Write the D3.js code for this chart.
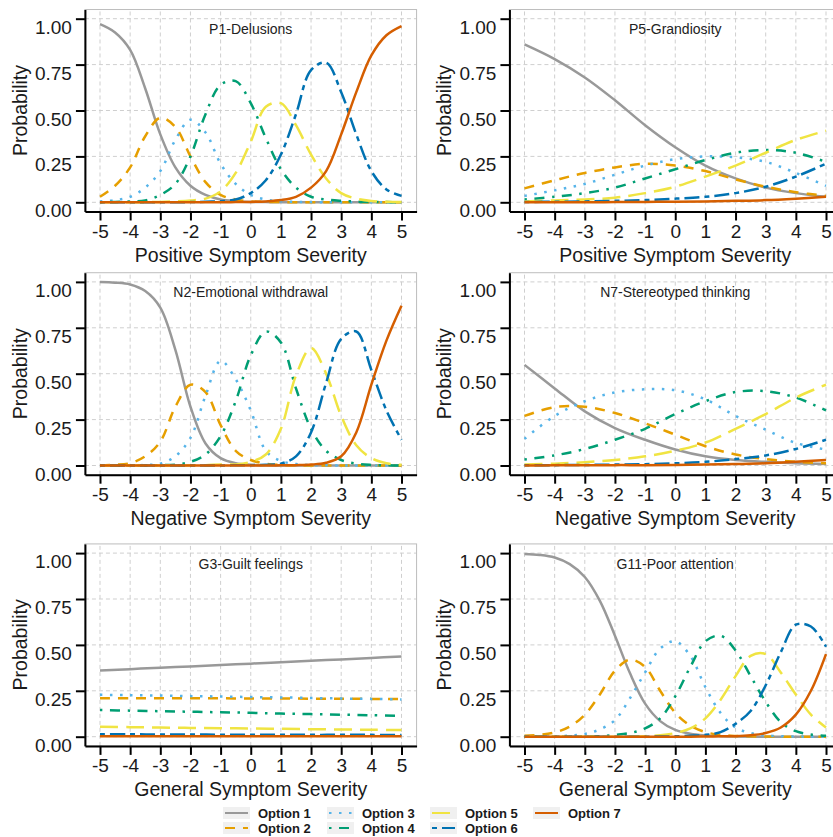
<!DOCTYPE html>
<html>
<head>
<meta charset="utf-8">
<script src="https://cdn.jsdelivr.net/npm/d3@7"></script>
<style>
  body { margin: 0; background: #fff; }
  svg text { font-family: "Liberation Sans", Arial, Helvetica, sans-serif; }
</style>
</head>
<body>
<div id="chart"></div>
<script>
// category response curves
var options = ["Option 1","Option 2","Option 3","Option 4","Option 5","Option 6","Option 7"]
var panelTitles = ["P1-Delusions","P5-Grandiosity","N2-Emotional withdrawal","N7-Stereotyped thinking","G3-Guilt feelings","G11-Poor attention"]
var xTitles = ["Positive Symptom Severity","Positive Symptom Severity","Negative Symptom Severity","Negative Symptom Severity","General Symptom Severity","General Symptom Severity"]
var xTicks = [-5,-4,-3,-2,-1,0,1,2,3,4,5]
var yTicks = [0,0.25,0.5,0.75,1]

var xFine = [-5,-4.5,-4,-3.5,-3,-2.5,-2,-1.5,-1,-0.5,0,0.5,1,1.5,2,2.5,3,3.5,4,4.5,5]
var xCoarse = [-5,-4,-3,-2,-1,0,1,2,3,4,5]

var p1Delusions = [
	[0.97,0.925,0.83,0.62,0.37,0.19,0.09,0.04,0.015,0.006,0.002,0.001,0,0,0,0,0,0,0,0,0],
	[0.03,0.09,0.19,0.36,0.46,0.41,0.25,0.11,0.04,0.015,0.005,0.002,0.001,0,0,0,0,0,0,0,0],
	[0.005,0.012,0.03,0.08,0.17,0.34,0.45,0.38,0.21,0.1,0.04,0.015,0.006,0.002,0.001,0,0,0,0,0,0],
	[0,0.002,0.005,0.01,0.04,0.1,0.25,0.48,0.64,0.66,0.54,0.35,0.18,0.08,0.03,0.015,0.008,0.004,0.002,0.001,0],
	[0,0,0,0.001,0.002,0.005,0.01,0.02,0.06,0.16,0.33,0.52,0.54,0.42,0.26,0.13,0.05,0.02,0.007,0.003,0.001],
	[0,0,0,0,0,0,0.001,0.003,0.006,0.015,0.05,0.12,0.26,0.48,0.72,0.76,0.6,0.37,0.17,0.07,0.035],
	[0,0,0,0,0,0,0,0,0,0.001,0.002,0.005,0.012,0.03,0.08,0.17,0.37,0.6,0.8,0.91,0.96]
]

var p5Grandiosity = [
	[0.86,0.78,0.68,0.556,0.42,0.3,0.2,0.13,0.08,0.05,0.03],
	[0.076,0.12,0.16,0.19,0.21,0.2,0.17,0.125,0.085,0.055,0.035],
	[0.035,0.065,0.1,0.15,0.2,0.235,0.25,0.245,0.22,0.16,0.09],
	[0.015,0.03,0.05,0.08,0.13,0.18,0.23,0.27,0.285,0.27,0.22],
	[0.005,0.01,0.015,0.025,0.05,0.085,0.14,0.2,0.27,0.34,0.39],
	[0.002,0.003,0.005,0.008,0.012,0.02,0.03,0.05,0.085,0.14,0.21],
	[0,0,0,0.001,0.002,0.003,0.005,0.008,0.012,0.02,0.03]
]

var n2Withdrawal = [
	[0.999,0.996,0.986,0.95,0.86,0.63,0.32,0.12,0.04,0.012,0.004,0.001,0,0,0,0,0,0,0,0,0],
	[0.001,0.004,0.013,0.05,0.13,0.32,0.44,0.4,0.22,0.08,0.03,0.01,0.003,0.001,0,0,0,0,0,0,0],
	[0,0,0.001,0.003,0.01,0.05,0.15,0.38,0.57,0.47,0.3,0.08,0.025,0.008,0.002,0.001,0,0,0,0,0],
	[0,0,0,0,0.002,0.005,0.02,0.06,0.16,0.35,0.6,0.73,0.67,0.42,0.2,0.08,0.03,0.01,0.003,0.001,0],
	[0,0,0,0,0,0,0.001,0.002,0.005,0.006,0.02,0.06,0.2,0.49,0.64,0.5,0.27,0.11,0.04,0.012,0.004],
	[0,0,0,0,0,0,0,0,0,0.001,0.002,0.004,0.01,0.05,0.18,0.45,0.69,0.73,0.52,0.3,0.14],
	[0,0,0,0,0,0,0,0,0,0,0,0,0.001,0.002,0.005,0.015,0.05,0.18,0.44,0.68,0.87]
]

var n7Stereotyped = [
	[0.548,0.42,0.295,0.204,0.14,0.087,0.05,0.03,0.02,0.012,0.008],
	[0.27,0.318,0.32,0.286,0.23,0.168,0.105,0.06,0.035,0.02,0.012],
	[0.145,0.27,0.35,0.398,0.415,0.41,0.36,0.27,0.195,0.123,0.087],
	[0.033,0.055,0.09,0.14,0.2,0.28,0.35,0.4,0.405,0.37,0.3],
	[0.005,0.01,0.018,0.03,0.05,0.08,0.125,0.2,0.28,0.37,0.44],
	[0.001,0.002,0.003,0.005,0.007,0.012,0.02,0.035,0.055,0.09,0.14],
	[0,0.001,0.001,0.002,0.002,0.003,0.005,0.008,0.012,0.02,0.03]
]

var g3Guilt = [
	[0.36,0.368,0.376,0.383,0.391,0.398,0.406,0.414,0.421,0.429,0.437],
	[0.21,0.21,0.21,0.209,0.209,0.208,0.208,0.207,0.207,0.206,0.206],
	[0.228,0.226,0.224,0.221,0.219,0.216,0.214,0.211,0.208,0.206,0.203],
	[0.145,0.142,0.139,0.136,0.133,0.13,0.126,0.123,0.12,0.117,0.114],
	[0.054,0.052,0.05,0.048,0.046,0.045,0.043,0.041,0.039,0.038,0.036],
	[0.013,0.013,0.012,0.012,0.011,0.011,0.011,0.01,0.01,0.01,0.009],
	[0.002,0.002,0.002,0.002,0.002,0.003,0.003,0.003,0.003,0.003,0.003]
]

var g11Attention = [
	[0.995,0.99,0.976,0.94,0.87,0.74,0.55,0.345,0.18,0.085,0.037,0.016,0.007,0.003,0.001,0,0,0,0,0,0],
	[0.005,0.01,0.023,0.055,0.12,0.23,0.36,0.42,0.38,0.25,0.13,0.06,0.025,0.01,0.004,0.002,0.001,0,0,0,0],
	[0,0.001,0.002,0.006,0.015,0.04,0.09,0.21,0.35,0.48,0.52,0.44,0.27,0.13,0.05,0.02,0.007,0.003,0.001,0,0],
	[0,0,0,0,0.001,0.003,0.01,0.02,0.045,0.1,0.22,0.38,0.52,0.55,0.47,0.33,0.19,0.08,0.03,0.012,0.005],
	[0,0,0,0,0,0,0,0.001,0.003,0.008,0.02,0.045,0.1,0.2,0.33,0.44,0.45,0.35,0.23,0.12,0.05],
	[0,0,0,0,0,0,0,0,0,0.001,0.002,0.005,0.01,0.025,0.07,0.14,0.28,0.46,0.61,0.6,0.49],
	[0,0,0,0,0,0,0,0,0,0,0,0,0.001,0.002,0.003,0.008,0.02,0.05,0.12,0.25,0.45]
]

var panelData = [p1Delusions, p5Grandiosity, n2Withdrawal, n7Stereotyped, g3Guilt, g11Attention]
var panelX = [xFine, xCoarse, xFine, xCoarse, xCoarse, xFine]

// styling
var colours = ["#999999","#E69F00","#56B4E9","#009E73","#F0E442","#0072B2","#D55E00"]
var dashes = [null, "10,8", "2.5,7.5", "2.5,7.5,10,7.5", "18,8", "5,5,15,5", null]

var width = 833, height = 837
var colLeft = [100, 524.5]          // pixel of x = -5
var rowZero = [202.3, 465.5, 736.7] // pixel of y = 0
var unitX = 30.15, unitY = 183.6

var svg = d3.select("#chart").append("svg")
	.attr("width", width)
	.attr("height", height)
	.style("display", "block")

svg.append("rect").attr("width", width).attr("height", height).attr("fill", "#fff")

var line = d3.line().curve(d3.curveCatmullRom.alpha(0.5))

panelData.forEach(function(series, i) {
	var col = i % 2, row = Math.floor(i / 2)
	var x = d3.scaleLinear().domain([-5.5, 5.5])
		.range([colLeft[col] - 0.5 * unitX, colLeft[col] + 10.5 * unitX])
	var y = d3.scaleLinear().domain([-0.05, 1.05])
		.range([rowZero[row] + 0.05 * unitY, rowZero[row] - 1.05 * unitY])

	var g = svg.append("g")

	// grid
	g.selectAll(".vgrid").data(xTicks).enter().append("line")
		.attr("x1", d => x(d)).attr("x2", d => x(d))
		.attr("y1", y(-0.05)).attr("y2", y(1.05))
		.attr("stroke", "#cfcfcf").attr("stroke-width", 1).attr("stroke-dasharray", "4,3")
	g.selectAll(".hgrid").data(yTicks).enter().append("line")
		.attr("x1", x(-5.5)).attr("x2", x(5.5))
		.attr("y1", d => y(d)).attr("y2", d => y(d))
		.attr("stroke", "#cfcfcf").attr("stroke-width", 1).attr("stroke-dasharray", "4,3")

	g.append("rect")
		.attr("x", x(-5.5)).attr("y", y(1.05))
		.attr("width", x(5.5) - x(-5.5)).attr("height", y(-0.05) - y(1.05))
		.attr("fill", "none").attr("stroke", "#bdbdbd").attr("stroke-width", 1)

	// curves
	var xs = panelX[i]
	g.selectAll(".curve").data(series).enter().append("path")
		.attr("class", "curve")
		.attr("d", vals => line(vals.map((v, k) => [x(xs[k]), y(v)])))
		.attr("fill", "none")
		.attr("stroke", (d, k) => colours[k])
		.attr("stroke-width", 2.5)
		.attr("stroke-dasharray", (d, k) => dashes[k])

	g.append("text")
		.attr("x", x(0)).attr("y", y(1) + 15.5)
		.attr("text-anchor", "middle")
		.attr("font-size", 14).attr("fill", "#222")
		.text(panelTitles[i])

	// axes
	var yAxis = g.append("g")
		.attr("transform", "translate(" + x(-5.5) + ",0)")
		.call(d3.axisLeft(y).tickValues(yTicks).tickFormat(d3.format(".2f")).tickSize(9).tickSizeOuter(0).tickPadding(4))
	yAxis.selectAll("text").attr("dy", null).attr("y", 14.5)

	var xAxis = g.append("g")
		.attr("transform", "translate(0," + y(-0.05) + ")")
		.call(d3.axisBottom(x).tickValues(xTicks).tickFormat(d => String(d)).tickSize(9).tickSizeOuter(0).tickPadding(4))

	;[yAxis, xAxis].forEach(function(a) {
		a.select(".domain").attr("stroke", "#000").attr("stroke-width", 2)
		a.selectAll(".tick line").attr("stroke", "#000").attr("stroke-width", 2)
		a.selectAll("text").attr("font-size", 19).attr("fill", "#1a1a1a")
			.style("font-family", '"Liberation Sans", Arial, sans-serif')
	})

	g.append("text")
		.attr("x", x(0)).attr("y", rowZero[row] + 59.5)
		.attr("text-anchor", "middle")
		.attr("font-size", 19.5).attr("fill", "#1a1a1a")
		.text(xTitles[i])

	g.append("text")
		.attr("transform", "translate(" + (x(-5.5) - 65) + "," + (y(0) + y(1)) / 2 + ") rotate(-90)")
		.attr("text-anchor", "middle")
		.attr("dominant-baseline", "central")
		.attr("font-size", 19.5).attr("fill", "#1a1a1a")
		.text("Probability")
})

// legend, filled by column in two rows
var keyX = [223, 327, 430, 533]
var rowMid = [813, 828]

var legend = svg.append("g")
var items = legend.selectAll(".item").data(options).enter().append("g")
	.attr("transform", (d, k) => "translate(" + keyX[Math.floor(k / 2)] + "," + rowMid[k % 2] + ")")

items.append("rect")
	.attr("x", 0).attr("y", -6).attr("width", 27).attr("height", 12)
	.attr("fill", "#f0f0f0")
items.append("line")
	.attr("x1", 2).attr("x2", 25).attr("y1", 0).attr("y2", 0)
	.attr("stroke", (d, k) => colours[k])
	.attr("stroke-width", 2)
	.attr("stroke-dasharray", (d, k) => dashes[k])
items.append("text")
	.attr("x", 35).attr("y", 4.5)
	.attr("font-size", 13).attr("font-weight", "bold").attr("fill", "#1a1a1a")
	.text(d => d)
</script>
</body>
</html>
